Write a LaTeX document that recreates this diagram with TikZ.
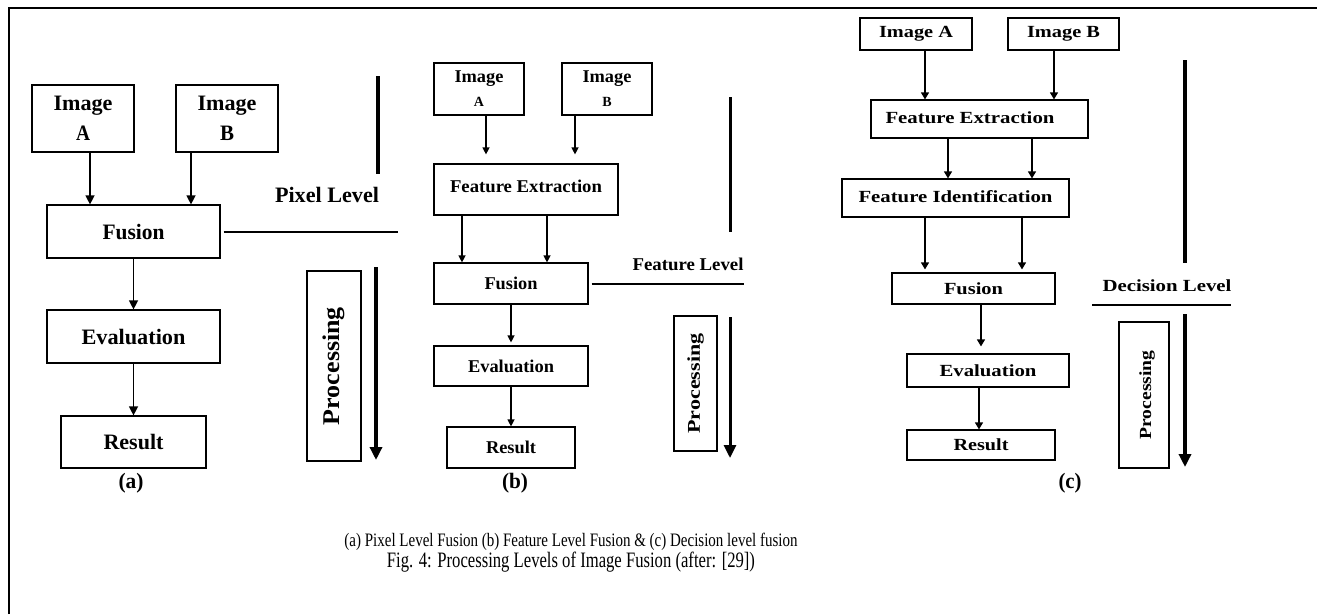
\documentclass[tikz,border=0pt]{standalone}
\usepackage{fontspec}
\setmainfont{Liberation Serif}
\usetikzlibrary{arrows.meta}
\newcommand{\myfit}[2]{\resizebox{#1}{\height}{#2}}
\begin{document}
\begin{tikzpicture}[x=1pt,y=-1pt,
  box/.style={draw, line width=1.2pt, rectangle, inner sep=0pt},
  fa/.style={font=\bfseries\fontsize{22}{30}\selectfont},
  fb/.style={font=\bfseries\fontsize{18}{24}\selectfont},
  fc/.style={font=\bfseries\fontsize{17}{20}\selectfont},
  lbl/.style={inner sep=0pt},
  arrA/.style={-{Triangle[length=9pt,width=9pt]}, line width=1.3pt},
  arrB/.style={-{Triangle[length=7pt,width=7pt]}, line width=1.3pt},
  arrC/.style={-{Triangle[length=7pt,width=8pt]}, line width=1.3pt},
  lvl/.style={line width=2pt},
  bar/.style={line width=3.5pt},
  parr/.style={line width=3.5pt, -{Triangle[length=13pt,width=12pt]}}
]
\useasboundingbox (0,0) rectangle (1317,614);
% frame
\draw[line width=2pt] (8.5,614) -- (8.5,7.5) -- (1317,7.5);

% ---------------- panel (a)
\node[box, fa, align=center, minimum width=102pt, minimum height=67pt] (iaA) at (83,118.5) {\myfit{59pt}{Image}\\\myfit{14pt}{A}};
\node[box, fa, align=center, minimum width=102pt, minimum height=67pt] (iaB) at (227,118.5) {\myfit{59pt}{Image}\\\myfit{14pt}{B}};
\node[box, fa, minimum width=173pt, minimum height=53pt] (fuA) at (133.5,231.5) {\myfit{62pt}{Fusion}};
\node[box, fa, minimum width=173pt, minimum height=53pt] (evA) at (133.5,336.5) {\myfit{104pt}{Evaluation}};
\node[box, fa, minimum width=145pt, minimum height=52pt] (reA) at (133.5,442) {\myfit{60pt}{Result}};
\node[lbl, fa] (capA) at (131,483) {\myfit{25pt}{(a)}};
\node[lbl, fa] (pxl) at (327,195) {\myfit{104pt}{Pixel Level}};
\node[box, font=\bfseries\fontsize{24}{24}\selectfont, minimum width=54pt, minimum height=190pt] (prA) at (334,366) {\rotatebox{90}{\myfit{118pt}{Processing}}};
\coordinate (pxEnd) at (398,231.5);
\coordinate (barAt) at (378,76);
\coordinate (barAb) at (378,174);
\coordinate (parAt) at (376,267);
\coordinate (parAb) at (376,460);
\draw[arrA] ([xshift=7pt]iaA.south) -- ([xshift=7pt]iaA.south |- fuA.north);
\draw[arrA] ([xshift=-36pt]iaB.south) -- ([xshift=-36pt]iaB.south |- fuA.north);
\draw[arrA] (fuA) -- (evA);
\draw[arrA] (evA) -- (reA);
\draw[lvl] ([xshift=3pt]fuA.east) -- (pxEnd |- fuA.east);
\draw[line width=4pt] (barAt) -- (barAb);
\draw[parr, line width=4pt] (parAt) -- (parAb);

% ---------------- panel (b)
\node[box, fb, align=center, minimum width=90pt, minimum height=52pt] (ibA) at (479,89) {\myfit{49pt}{Image}\\{\fontsize{14}{24}\selectfont A}};
\node[box, fb, align=center, minimum width=90pt, minimum height=52pt] (ibB) at (607,89) {\myfit{49pt}{Image}\\{\fontsize{14}{24}\selectfont B}};
\node[box, fb, minimum width=184pt, minimum height=51pt] (feB) at (526,189.5) {\raisebox{6pt}{\myfit{152pt}{Feature Extraction}}};
\node[box, fb, minimum width=154pt, minimum height=41pt] (fuB) at (511,283.5) {\myfit{53pt}{Fusion}};
\node[box, fb, minimum width=154pt, minimum height=40pt] (evB) at (511,366) {\myfit{86pt}{Evaluation}};
\node[box, fb, minimum width=128pt, minimum height=41pt] (reB) at (511,447.5) {\myfit{50pt}{Result}};
\node[lbl, fa] (capB) at (515,483) {\myfit{26pt}{(b)}};
\node[lbl, fb] (fel) at (688,264) {\myfit{111pt}{Feature Level}};
\node[box, fb, minimum width=43pt, minimum height=135pt] (prB) at (695.5,383.5) {\rotatebox{90}{\myfit{100pt}{Processing}}};
\coordinate (feEnd) at (744,282);
\coordinate (barBt) at (730,97);
\coordinate (barBb) at (730,232);
\coordinate (parBt) at (730,317);
\coordinate (parBb) at (730,458);
\draw[arrB, shorten >=9pt] ([xshift=7pt]ibA.south) -- ([xshift=7pt]ibA.south |- feB.north);
\draw[arrB, shorten >=9pt] ([xshift=-32pt]ibB.south) -- ([xshift=-32pt]ibB.south |- feB.north);
\draw[arrB] ([xshift=-64pt]feB.south) -- ([xshift=-64pt]feB.south |- fuB.north);
\draw[arrB] ([xshift=21pt]feB.south) -- ([xshift=21pt]feB.south |- fuB.north);
\draw[arrB, shorten >=3pt] (fuB) -- (evB);
\draw[arrB] (evB) -- (reB);
\draw[lvl] ([xshift=3pt]fuB.east) -- (feEnd |- fuB.east);
\draw[line width=3pt] (barBt) -- (barBb);
\draw[parr, line width=3pt] (parBt) -- (parBb);

% ---------------- panel (c)
\node[box, fc, minimum width=112pt, minimum height=32pt] (icA) at (916,34) {\myfit{74pt}{Image A}};
\node[box, fc, minimum width=111pt, minimum height=32pt] (icB) at (1063.5,34) {\myfit{73pt}{Image B}};
\node[box, fc, minimum width=217pt, minimum height=38pt] (feC) at (979.5,119) {\hspace*{-19pt}\raisebox{3pt}{\myfit{169pt}{Feature Extraction}}};
\node[box, fc, minimum width=227pt, minimum height=38pt] (fiC) at (955.5,198) {\raisebox{2pt}{\myfit{194pt}{Feature Identification}}};
\node[box, fc, minimum width=163pt, minimum height=31pt] (fuC) at (973.5,288.5) {\myfit{59pt}{Fusion}};
\node[box, fc, minimum width=162pt, minimum height=33pt] (evC) at (988,370.5) {\myfit{97pt}{Evaluation}};
\node[box, fc, minimum width=148pt, minimum height=30pt] (reC) at (981,445) {\myfit{55pt}{Result}};
\node[lbl, fa] (capC) at (1070,483) {\myfit{23pt}{(c)}};
\node[lbl, fc] (del) at (1167,286) {\myfit{129pt}{Decision Level}};
\node[box, fc, minimum width=50pt, minimum height=146pt] (prC) at (1144,395) {\hspace*{6pt}\rotatebox{90}{\myfit{89pt}{Processing}}};
\coordinate (deS) at (1092,305);
\coordinate (deE) at (1231,305);
\coordinate (barCt) at (1185,60);
\coordinate (barCb) at (1185,263);
\coordinate (parCt) at (1185,314);
\coordinate (parCb) at (1185,467);
\draw[arrC] ([xshift=9pt]icA.south) -- ([xshift=9pt]icA.south |- feC.north);
\draw[arrC] ([xshift=-9.5pt]icB.south) -- ([xshift=-9.5pt]icB.south |- feC.north);
\draw[arrC] ([xshift=-31.5pt]feC.south) -- ([xshift=-31.5pt]feC.south |- fiC.north);
\draw[arrC] ([xshift=52.5pt]feC.south) -- ([xshift=52.5pt]feC.south |- fiC.north);
\draw[arrC, shorten >=3pt] ([xshift=-30.5pt]fiC.south) -- ([xshift=-30.5pt]fiC.south |- fuC.north);
\draw[arrC, shorten >=3pt] ([xshift=66.5pt]fiC.south) -- ([xshift=66.5pt]fiC.south |- fuC.north);
\draw[arrC, shorten >=7pt] ([xshift=7.5pt]fuC.south) -- ([xshift=7.5pt]fuC.south |- evC.north);
\draw[arrC] ([xshift=-9pt]evC.south) -- ([xshift=-9pt]evC.south |- reC.north);
\draw[lvl] (deS) -- (deE);
\draw[bar] (barCt) -- (barCb);
\draw[parr] (parCt) -- (parCb);

% ---------------- captions
\node[lbl, font=\fontsize{19}{20}\selectfont] (cap1) at (571,542) {\myfit{453pt}{(a) Pixel Level Fusion (b) Feature Level Fusion \& (c) Decision level fusion}};
\node[lbl, font=\fontsize{22}{24}\selectfont] (cap2) at (571,562) {\myfit{368pt}{Fig. 4: Processing Levels of Image Fusion (after: [29])}};
\end{tikzpicture}
\end{document}
